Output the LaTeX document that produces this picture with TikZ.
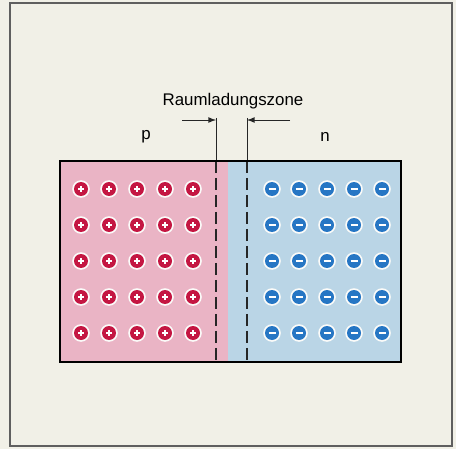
\documentclass[tikz,border=0pt]{standalone}
\usepackage{fontspec}
\setmainfont{Liberation Sans}
\usepackage{tikz}
\usetikzlibrary{calc}

\definecolor{paper}{RGB}{241,240,231}
\definecolor{pside}{RGB}{234,180,197}
\definecolor{nside}{RGB}{186,213,230}
\definecolor{pcol}{RGB}{196,22,66}
\definecolor{ncol}{RGB}{38,118,196}
\definecolor{framecol}{RGB}{95,95,95}

\tikzset{
  halo/.style={fill=white!75!paper},
  pcharge/.style={fill=pcol},
  ncharge/.style={fill=ncol},
  sign/.style={white, line width=1.3pt},
  zoneline/.style={color=black!85, line width=0.5pt},
  zonedash/.style={color=black!85, line width=0.7pt, dash pattern=on 0.24cm off 0.1cm}
}

\begin{document}
\begin{tikzpicture}[x=0.02cm, y=-0.02cm, font=\fontsize{9.6}{12}\selectfont]
  \useasboundingbox (0,0) rectangle (456,449);
  \fill[paper] (0,0) rectangle (456,449);
  \draw[color=framecol, line width=0.9pt] (10,3) rectangle (452,446);

  % p and n halves of the crystal
  \fill[pside] (60,161) rectangle (228,362);
  \fill[nside] (228,161) rectangle (401,362);

  % boundaries of the depletion zone
  \coordinate (lt) at (216,118);
  \coordinate (lm) at (216,161);
  \coordinate (lb) at (216,362);
  \coordinate (rt) at (247,118);
  \coordinate (rm) at (247,161);
  \coordinate (rb) at (247,362);
  \draw[zoneline] (lt) -- (lm);
  \draw[zoneline] (rt) -- (rm);
  \draw[zonedash] (lm) -- (lb);
  \draw[zonedash] (rm) -- (rb);

  \coordinate (la) at (182,120);
  \coordinate (ra) at (290,120);
  \draw[zoneline, -latex] (la) -- (lt |- la);
  \draw[zoneline, -latex] (ra) -- (rt |- ra);

  \draw[color=black, line width=1.1pt] (60,161) rectangle (401,362);

  % fixed ions: acceptors on the left, donors on the right
  \foreach \y in {189,225,261,297,333}
  {
  \foreach \x in {81,109,137,165,193}
    {
    \fill[halo] (\x,\y) circle (8.8);
    \fill[pcharge] (\x,\y) circle (7);
    \draw[sign] (\x-3,\y) -- (\x+3,\y);
    \draw[sign] (\x,\y-3) -- (\x,\y+3);
    }
  \foreach \x in {272,299,327,354,382}
    {
    \fill[halo] (\x,\y) circle (8.8);
    \fill[ncharge] (\x,\y) circle (7);
    \draw[sign] (\x-3.5,\y) -- (\x+3.5,\y);
    }
  }

  \node (zone) at (233,101) {Raumladungszone};
  \node (p) at (146,137) {p};
  \node (n) at (325,137) {n};
\end{tikzpicture}
\end{document}
